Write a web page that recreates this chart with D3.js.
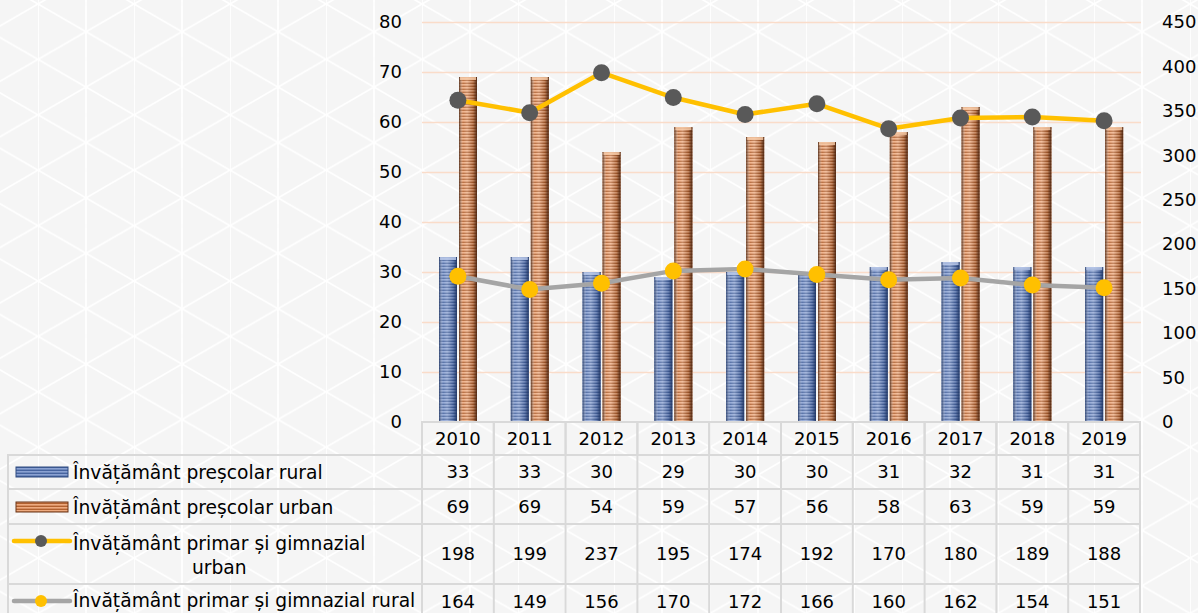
<!DOCTYPE html>
<html>
<head>
<meta charset="utf-8">
<script src="https://cdn.jsdelivr.net/npm/d3@7"></script>
<style>
  body { margin: 0; background: #f7f7f7; }
  svg { display: block; }
  .num { font-family: "DejaVu Sans", sans-serif; font-size: 18px; fill: #000; }
  .leg { font-family: "DejaVu Sans", sans-serif; font-size: 18.7px; fill: #000; }
</style>
</head>
<body>
<script>
// data
var years = ["2010", "2011", "2012", "2013", "2014", "2015", "2016", "2017", "2018", "2019"];
var prescolarRural = [33, 33, 30, 29, 30, 30, 31, 32, 31, 31];
var prescolarUrban = [69, 69, 54, 59, 57, 56, 58, 63, 59, 59];
var primarUrban = [198, 199, 237, 195, 174, 192, 170, 180, 189, 188];
var primarRural = [164, 149, 156, 170, 172, 166, 160, 162, 154, 151];
var leftTicks = [0, 10, 20, 30, 40, 50, 60, 70, 80];
var rightTicks = [0, 50, 100, 150, 200, 250, 300, 350, 400, 450];
var seriesNames = ["Învățământ preșcolar rural", "Învățământ preșcolar urban",
  "Învățământ primar și gimnazial urban", "Învățământ primar și gimnazial rural"];

var w = 1198, h = 613;
var plotLeft = 422, plotRight = 1140, plotTop = 22, plotBottom = 422;

var svg = d3.select("body").append("svg")
  .attr("width", w)
  .attr("height", h);

var defs = svg.append("defs");

// triangle background pattern
var tri = defs.append("pattern")
  .attr("id", "tri")
  .attr("patternUnits", "userSpaceOnUse")
  .attr("x", 38).attr("y", 4)
  .attr("width", 96).attr("height", 55.4);
tri.append("rect").attr("width", 96).attr("height", 55.4).attr("fill", "#f5f5f5");
tri.append("path")
  .attr("d", "M0,0V55.4M48,0V55.4M0,0L96,55.4M0,55.4L96,0")
  .attr("stroke", "#ffffff").attr("stroke-width", 1.8).attr("fill", "none");

svg.append("rect").attr("width", w).attr("height", h).attr("fill", "url(#tri)");

// striped cylinder fills for the bars
function barFill(id, light, dark, edge) {
  var p = defs.append("pattern")
    .attr("id", id + "Stripe")
    .attr("patternUnits", "userSpaceOnUse")
    .attr("width", 4).attr("height", 3);
  p.append("rect").attr("width", 4).attr("height", 3).attr("fill", light);
  p.append("rect").attr("y", 1.6).attr("width", 4).attr("height", 1.4).attr("fill", dark);

  var g = defs.append("linearGradient").attr("id", id + "Shade");
  g.append("stop").attr("offset", "0%").attr("stop-color", edge).attr("stop-opacity", 0.9);
  g.append("stop").attr("offset", "22%").attr("stop-color", "#ffffff").attr("stop-opacity", 0.1);
  g.append("stop").attr("offset", "45%").attr("stop-color", "#ffffff").attr("stop-opacity", 0.25);
  g.append("stop").attr("offset", "78%").attr("stop-color", edge).attr("stop-opacity", 0.25);
  g.append("stop").attr("offset", "100%").attr("stop-color", edge).attr("stop-opacity", 0.95);
}
barFill("blue", "#8aa1d2", "#47649f", "#1f3563");
barFill("orange", "#eeab80", "#b2612f", "#4a2410");

// scales
var x = d3.scaleBand().domain(years).range([plotLeft, plotRight]);
var x1 = d3.scaleBand().domain(["rural", "urban"]).range([17, 55]).paddingInner(0.1);
var yLeft = d3.scaleLinear().domain([0, 80]).range([plotBottom, plotTop]);
var yRight = d3.scaleLinear().domain([0, 450]).range([plotBottom, plotTop]);

// gridlines
svg.append("g")
  .attr("transform", "translate(" + plotLeft + ",0)")
  .call(d3.axisLeft(yLeft).tickValues(leftTicks.slice(1)).tickSize(-(plotRight + 1 - plotLeft)).tickFormat(""))
  .call(function(g) { g.select(".domain").remove(); })
  .selectAll("line").attr("stroke", "#fadcc9").attr("stroke-width", 1.5);

// left axis
svg.append("g")
  .attr("transform", "translate(412,0)")
  .call(d3.axisLeft(yLeft).tickValues(leftTicks).tickSize(0).tickPadding(10))
  .call(function(g) { g.select(".domain").remove(); })
  .selectAll("text").attr("class", "num");

// right axis
svg.append("g")
  .attr("transform", "translate(1152,0)")
  .call(d3.axisRight(yRight).tickValues(rightTicks).tickSize(0).tickPadding(10))
  .call(function(g) { g.select(".domain").remove(); })
  .selectAll("text").attr("class", "num");

svg.selectAll("g").filter(function() { return this.getAttribute("font-size"); })
  .attr("font-size", null).attr("font-family", null);

// bars
var barData = [];
years.forEach(function(yr, i) {
  barData.push({ year: yr, key: "rural", value: prescolarRural[i], fill: "blue" });
  barData.push({ year: yr, key: "urban", value: prescolarUrban[i], fill: "orange" });
});

var bars = svg.append("g").selectAll("g")
  .data(barData)
  .enter().append("g");

bars.append("rect")
  .attr("x", function(d) { return x(d.year) + x1(d.key); })
  .attr("y", function(d) { return yLeft(d.value); })
  .attr("width", x1.bandwidth())
  .attr("height", function(d) { return plotBottom - yLeft(d.value); })
  .attr("fill", function(d) { return "url(#" + d.fill + "Stripe)"; });

bars.append("rect")
  .attr("x", function(d) { return x(d.year) + x1(d.key); })
  .attr("y", function(d) { return yLeft(d.value); })
  .attr("width", x1.bandwidth())
  .attr("height", function(d) { return plotBottom - yLeft(d.value); })
  .attr("fill", function(d) { return "url(#" + d.fill + "Shade)"; });

// bar top caps
bars.append("rect")
  .attr("x", function(d) { return x(d.year) + x1(d.key) + 1; })
  .attr("y", function(d) { return yLeft(d.value); })
  .attr("width", x1.bandwidth() - 2)
  .attr("height", 3)
  .attr("fill", function(d) { return d.fill == "blue" ? "#b9c8e8" : "#f6caa8"; })
  .attr("opacity", 0.8);

// lines: the urban line is stacked on top of the rural line
var ruralPts = years.map(function(yr, i) { return [yr, primarRural[i]]; });
var urbanPts = years.map(function(yr, i) { return [yr, primarRural[i] + primarUrban[i]]; });

var line = d3.line()
  .x(function(d) { return x(d[0]) + x.bandwidth() / 2; })
  .y(function(d) { return yRight(d[1]); });

svg.append("path")
  .datum(ruralPts)
  .attr("d", line)
  .attr("fill", "none")
  .attr("stroke", "#a5a5a5")
  .attr("stroke-width", 4.5)
  .attr("stroke-linejoin", "round");

svg.append("g").selectAll("circle")
  .data(ruralPts)
  .enter().append("circle")
  .attr("cx", function(d) { return x(d[0]) + x.bandwidth() / 2; })
  .attr("cy", function(d) { return yRight(d[1]); })
  .attr("r", 8.5)
  .attr("fill", "#ffc000");

svg.append("path")
  .datum(urbanPts)
  .attr("d", line)
  .attr("fill", "none")
  .attr("stroke", "#ffc000")
  .attr("stroke-width", 4.5)
  .attr("stroke-linejoin", "round");

svg.append("g").selectAll("circle")
  .data(urbanPts)
  .enter().append("circle")
  .attr("cx", function(d) { return x(d[0]) + x.bandwidth() / 2; })
  .attr("cy", function(d) { return yRight(d[1]); })
  .attr("r", 8.5)
  .attr("fill", "#595959");

// data table
var rowTops = [422, 455, 489, 524, 584, 620];
var rows = [prescolarRural, prescolarUrban, primarUrban, primarRural];
var table = svg.append("g");
var border = "#d9d9d9";

// header row with the years
years.forEach(function(yr) {
  table.append("rect")
    .attr("x", x(yr)).attr("y", rowTops[0])
    .attr("width", x.bandwidth()).attr("height", rowTops[1] - rowTops[0])
    .attr("fill", "none").attr("stroke", border).attr("stroke-width", 2);
  table.append("text")
    .attr("class", "num")
    .attr("x", x(yr) + x.bandwidth() / 2)
    .attr("y", (rowTops[0] + rowTops[1]) / 2)
    .attr("dy", "0.36em")
    .attr("text-anchor", "middle")
    .text(yr);
});

rows.forEach(function(vals, r) {
  var y0 = rowTops[r + 1], y1 = rowTops[r + 2];
  table.append("rect")
    .attr("x", 8).attr("y", y0)
    .attr("width", plotRight - 8).attr("height", y1 - y0)
    .attr("fill", "none").attr("stroke", border).attr("stroke-width", 2);
  years.forEach(function(yr, i) {
    table.append("line")
      .attr("x1", x(yr)).attr("x2", x(yr))
      .attr("y1", y0).attr("y2", y1)
      .attr("stroke", border).attr("stroke-width", 2);
    table.append("text")
      .attr("class", "num")
      .attr("x", x(yr) + x.bandwidth() / 2)
      .attr("y", (y0 + y1) / 2)
      .attr("dy", "0.36em")
      .attr("text-anchor", "middle")
      .text(vals[i]);
  });
});

// legend keys inside the table
function barKey(y, fill) {
  table.append("rect").attr("x", 16).attr("y", y - 5).attr("width", 52).attr("height", 10)
    .attr("fill", "url(#" + fill + "Stripe)");
  table.append("rect").attr("x", 16).attr("y", y - 5).attr("width", 52).attr("height", 10)
    .attr("fill", "none").attr("stroke", fill == "blue" ? "#2f4b80" : "#6b3517").attr("stroke-width", 1);
}
function lineKey(y, stroke, dot) {
  table.append("line").attr("x1", 14).attr("x2", 70).attr("y1", y).attr("y2", y)
    .attr("stroke", stroke).attr("stroke-width", 4.5).attr("stroke-linecap", "round");
  table.append("circle").attr("cx", 41).attr("cy", y).attr("r", 6).attr("fill", dot);
}

barKey(472, "blue");
barKey(507, "orange");
lineKey(541, "#ffc000", "#595959");
lineKey(601, "#a5a5a5", "#ffc000");

function legendText(y, txt) {
  return table.append("text").attr("class", "leg").attr("x", 73).attr("y", y).attr("dy", "0.36em").text(txt);
}
legendText(472, seriesNames[0]);
legendText(507, seriesNames[1]);
var t3 = legendText(543, "Învățământ primar și gimnazial");
var t3w = t3.node().getComputedTextLength();
table.append("text").attr("class", "leg")
  .attr("x", 73 + t3w / 2).attr("y", 567).attr("dy", "0.36em")
  .attr("text-anchor", "middle").text("urban");
legendText(600, seriesNames[3]);
</script>
</body>
</html>
